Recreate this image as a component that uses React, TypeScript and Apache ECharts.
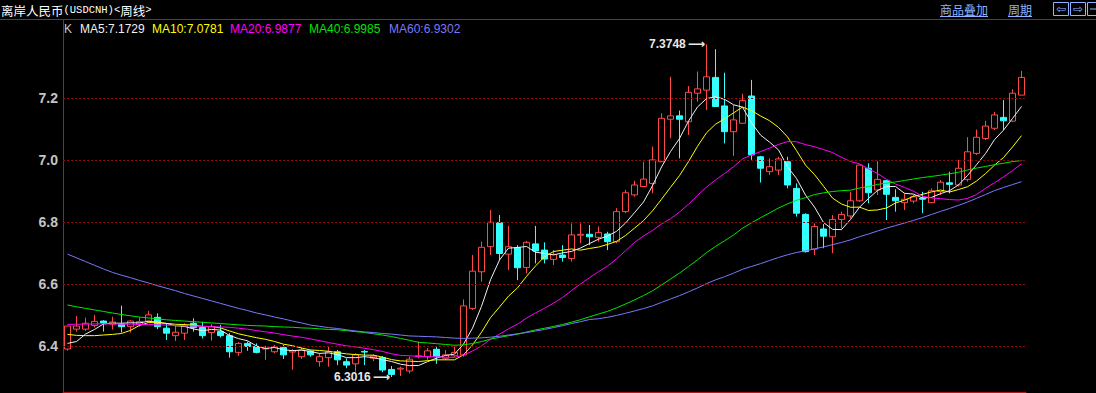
import React, { useEffect, useRef } from 'react';
import * as echarts from 'echarts';

// ---- weekly OHLC (USDCNH) ----
const opens = [
  6.392, 6.456, 6.456, 6.468, 6.482, 6.472, 6.472, 6.464, 6.472, 6.482,
  6.494, 6.459, 6.435, 6.443, 6.475, 6.461, 6.445, 6.448, 6.435, 6.381,
  6.410, 6.400, 6.392, 6.383, 6.397, 6.382, 6.367, 6.385, 6.351, 6.364,
  6.383, 6.351, 6.344, 6.384, 6.362, 6.364, 6.326, 6.327, 6.321, 6.367,
  6.367, 6.391, 6.362, 6.370, 6.373, 6.523, 6.641, 6.722, 6.799, 6.698,
  6.719, 6.655, 6.731, 6.711, 6.681, 6.695, 6.684, 6.759, 6.762, 6.752,
  6.763, 6.738, 6.835, 6.889, 6.916, 6.926, 6.996, 7.133, 7.144, 7.125,
  7.217, 7.227, 7.268, 7.176, 7.093, 7.120, 7.208, 7.012, 6.964, 6.969,
  6.996, 6.910, 6.826, 6.714, 6.779, 6.754, 6.810, 6.821, 6.870, 6.975,
  6.905, 6.935, 6.881, 6.864, 6.869, 6.878, 6.864, 6.900, 6.928, 6.921,
  6.939, 7.023, 7.071, 7.104, 7.139, 7.127, 7.211,
];
const closes = [
  6.466, 6.466, 6.475, 6.481, 6.476, 6.479, 6.464, 6.482, 6.480, 6.502,
  6.464, 6.443, 6.446, 6.469, 6.461, 6.435, 6.464, 6.435, 6.383, 6.410,
  6.400, 6.381, 6.394, 6.399, 6.373, 6.386, 6.389, 6.373, 6.367, 6.383,
  6.357, 6.340, 6.373, 6.382, 6.369, 6.324, 6.310, 6.330, 6.359, 6.370,
  6.386, 6.367, 6.373, 6.381, 6.531, 6.643, 6.720, 6.801, 6.700, 6.722,
  6.654, 6.736, 6.708, 6.682, 6.697, 6.687, 6.760, 6.762, 6.754, 6.768,
  6.738, 6.835, 6.896, 6.921, 6.940, 7.002, 7.136, 7.144, 7.133, 7.220,
  7.231, 7.270, 7.174, 7.093, 7.131, 7.193, 7.018, 6.975, 6.980, 7.005,
  6.921, 6.830, 6.706, 6.787, 6.756, 6.810, 6.826, 6.870, 6.985, 6.896,
  6.939, 6.891, 6.870, 6.875, 6.883, 6.875, 6.902, 6.930, 6.923, 6.975,
  7.028, 7.075, 7.111, 7.147, 7.128, 7.217, 7.268,
];
const lows = [
  6.387, 6.448, 6.450, 6.462, 6.448, 6.455, 6.445, 6.445, 6.464, 6.477,
  6.456, 6.421, 6.418, 6.421, 6.448, 6.426, 6.419, 6.429, 6.364, 6.370,
  6.386, 6.378, 6.357, 6.378, 6.360, 6.325, 6.360, 6.367, 6.335, 6.335,
  6.340, 6.330, 6.319, 6.340, 6.353, 6.317, 6.3016, 6.305, 6.313, 6.362,
  6.357, 6.344, 6.356, 6.367, 6.367, 6.518, 6.609, 6.695, 6.679, 6.647,
  6.614, 6.636, 6.668, 6.668, 6.663, 6.674, 6.674, 6.733, 6.727, 6.738,
  6.711, 6.733, 6.830, 6.883, 6.916, 6.894, 6.996, 7.072, 7.007, 7.082,
  7.190, 7.163, 7.174, 7.055, 7.015, 7.120, 7.002, 6.929, 6.953, 6.953,
  6.910, 6.819, 6.703, 6.695, 6.717, 6.701, 6.781, 6.813, 6.867, 6.862,
  6.889, 6.808, 6.835, 6.840, 6.862, 6.830, 6.862, 6.889, 6.894, 6.916,
  6.932, 7.018, 7.066, 7.098, 7.098, 7.125, 7.211,
];
const highs = [
  6.466, 6.498, 6.493, 6.502, 6.485, 6.496, 6.532, 6.485, 6.494, 6.515,
  6.507, 6.475, 6.467, 6.475, 6.491, 6.480, 6.472, 6.470, 6.443, 6.414,
  6.416, 6.410, 6.402, 6.405, 6.405, 6.392, 6.397, 6.389, 6.378, 6.400,
  6.389, 6.362, 6.378, 6.389, 6.375, 6.369, 6.337, 6.335, 6.367, 6.416,
  6.395, 6.400, 6.389, 6.400, 6.552, 6.695, 6.738, 6.840, 6.824, 6.789,
  6.727, 6.741, 6.789, 6.736, 6.711, 6.727, 6.797, 6.797, 6.792, 6.787,
  6.770, 6.846, 6.905, 6.935, 6.996, 7.045, 7.152, 7.270, 7.161, 7.240,
  7.287, 7.3748, 7.359, 7.283, 7.179, 7.215, 7.260, 7.015, 7.007, 7.012,
  7.012, 6.926, 6.830, 6.797, 6.795, 6.824, 6.835, 6.899, 6.987, 6.991,
  6.998, 6.937, 6.907, 6.894, 6.889, 6.899, 6.910, 6.937, 6.964, 7.002,
  7.075, 7.100, 7.128, 7.157, 7.195, 7.230, 7.289,
];
const weeks = closes.map((_, i) => `W${i + 1}`);

// moving-average values before the first full window
const ma5Head = [6.410, 6.416, 6.440, 6.455];
const ma10Head = [6.439, 6.436, 6.435, 6.435, 6.437, 6.439, 6.442, 6.452, 6.468];
const ma20Head = [
  6.471, 6.472, 6.472, 6.473, 6.473, 6.473, 6.472, 6.472, 6.471, 6.471,
  6.470, 6.469, 6.468, 6.467, 6.466, 6.465, 6.464, 6.463, 6.462,
];
const ma40Head = [
  6.534, 6.528, 6.523, 6.518, 6.513, 6.508, 6.503, 6.499, 6.495, 6.492,
  6.489, 6.486, 6.484, 6.482, 6.480, 6.478, 6.476, 6.474, 6.472, 6.470,
  6.468, 6.467, 6.466, 6.464, 6.463, 6.462, 6.460, 6.459, 6.457, 6.455,
  6.454, 6.451, 6.448, 6.445, 6.441, 6.437, 6.432, 6.426, 6.420,
];
const ma60Head = [
  6.698, 6.686, 6.674, 6.662, 6.650, 6.639, 6.630, 6.622, 6.613, 6.605,
  6.596, 6.588, 6.580, 6.571, 6.563, 6.555, 6.547, 6.539, 6.531, 6.523,
  6.516, 6.508, 6.502, 6.495, 6.489, 6.482, 6.476, 6.469, 6.465, 6.461,
  6.458, 6.454, 6.450, 6.447, 6.445, 6.442, 6.440, 6.437, 6.434, 6.433,
  6.432, 6.431, 6.429, 6.427, 6.426, 6.427, 6.428, 6.430, 6.433, 6.437,
  6.441, 6.445, 6.450, 6.455, 6.461, 6.467, 6.474, 6.480, 6.487,
];

const yTicks = [6.4, 6.6, 6.8, 7.0, 7.2];
const titleParts = ['离岸人民币', '(USDCNH)<', '周线', '>'];
const legendLabels = ['K', 'MA5:7.1729', 'MA10:7.0781', 'MA20:6.9877', 'MA40:6.9985', 'MA60:6.9302'];
const menuLabels = ['商品叠加', '周期'];

function movingAverage(n: number, head: number[]) {
  return closes.map((_, i) => {
    if (i < n - 1) return head[i];
    let s = 0;
    for (let k = i - n + 1; k <= i; k++) s += closes[k];
    return +(s / n).toFixed(4);
  });
}

const Y_MIN = 6.2532;
const Y_MAX = 7.4532;

export default function App() {
  const ref = useRef<HTMLDivElement>(null);
  useEffect(() => {
    document.body.style.margin = '0';
    document.body.style.background = '#000';
    if (!ref.current) return;
    const chart = echarts.init(ref.current, null, { renderer: 'svg' });

    const ohlc = opens.map((o, i) => [o, closes[i], lows[i], highs[i]]);
    const maxH = Math.max(...highs);
    const minL = Math.min(...lows);
    const hiIdx = highs.indexOf(maxH);
    const loIdx = lows.indexOf(minL);

    const maDefs = [
      { n: 5, head: ma5Head, color: '#f0f0f0' },
      { n: 10, head: ma10Head, color: '#ffff00' },
      { n: 20, head: ma20Head, color: '#ff00ff' },
      { n: 40, head: ma40Head, color: '#00e600' },
      { n: 60, head: ma60Head, color: '#7878ff' },
    ];
    const legendColors = ['#c8c8c8', '#f0f0f0', '#ffff00', '#ff00ff', '#00e600', '#7878ff'];
    const legendX = [64, 80, 152, 230, 309, 389];

    const red = '#b01818';
    const blue = '#8cb4ff';

    const graphics: any[] = [
      { type: 'rect', shape: { x: 0, y: 0, width: 1096, height: 19 }, style: { fill: '#000' }, z: -1 },
      {
        type: 'text', x: 1, y: 10,
        style: {
          text: `{a|${titleParts[0]}}{b|${titleParts[1]}}{a|${titleParts[2]}}{b|${titleParts[3]}}`,
          verticalAlign: 'middle',
          rich: {
            a: { fontSize: 12.5, fontFamily: '"Noto Sans CJK SC"', fill: '#ffffff', color: '#ffffff' },
            b: { fontSize: 10.5, fontFamily: '"Liberation Mono"', fill: '#ffffff', color: '#ffffff' },
          },
        },
      },
      { type: 'line', shape: { x1: 0, y1: 19.5, x2: 1096, y2: 19.5 }, style: { stroke: red, lineWidth: 1 } },
      ...legendLabels.map((t, i) => ({
        type: 'text', x: legendX[i], y: 29,
        style: { text: t, fill: legendColors[i], font: '12px "Liberation Sans"', verticalAlign: 'middle' },
      })),
      { type: 'text', x: 940, y: 9, style: { text: menuLabels[0], fill: blue, font: '12px "Noto Sans CJK SC"', verticalAlign: 'middle' } },
      { type: 'line', shape: { x1: 940, y1: 16.5, x2: 988, y2: 16.5 }, style: { stroke: blue, lineWidth: 1 } },
      { type: 'text', x: 1008, y: 9, style: { text: menuLabels[1], fill: blue, font: '12px "Noto Sans CJK SC"', verticalAlign: 'middle' } },
      { type: 'line', shape: { x1: 1008, y1: 16.5, x2: 1032, y2: 16.5 }, style: { stroke: blue, lineWidth: 1 } },
      { type: 'rect', shape: { x: 1053.5, y: 2.5, width: 15, height: 13 }, style: { fill: 'none', stroke: blue, lineWidth: 1 } },
      { type: 'text', x: 1061, y: 9, style: { text: '⇦', fill: blue, font: '12px "DejaVu Sans"', align: 'center', verticalAlign: 'middle' } },
      { type: 'rect', shape: { x: 1070.5, y: 2.5, width: 15, height: 13 }, style: { fill: 'none', stroke: blue, lineWidth: 1 } },
      { type: 'text', x: 1078, y: 9, style: { text: '⇨', fill: blue, font: '12px "DejaVu Sans"', align: 'center', verticalAlign: 'middle' } },
      { type: 'rect', shape: { x: 1087.5, y: 2.5, width: 15, height: 13 }, style: { fill: 'none', stroke: blue, lineWidth: 1 } },
      { type: 'line', shape: { x1: 1090, y1: 9, x2: 1096, y2: 9 }, style: { stroke: blue, lineWidth: 1 } },
    ];

    chart.setOption({
      animation: false,
      backgroundColor: '#000',
      grid: { left: 63, right: 70, top: 20, bottom: 1 },
      xAxis: {
        type: 'category', data: weeks, boundaryGap: true,
        axisLine: { show: true, lineStyle: { color: red, width: 1 } },
        axisTick: { show: false }, axisLabel: { show: false }, splitLine: { show: false },
      },
      yAxis: {
        type: 'value', min: Y_MIN, max: Y_MAX,
        axisLine: { show: true, lineStyle: { color: red, width: 1 } },
        axisTick: { show: false }, axisLabel: { show: false }, splitLine: { show: false },
      },
      graphic: graphics,
      series: [
        {
          type: 'candlestick', data: ohlc, barWidth: 7, silent: true,
          itemStyle: {
            color: 'transparent', color0: '#33ffff',
            borderColor: '#ff4848', borderColor0: '#33ffff', borderWidth: 1,
          },
          markLine: {
            silent: true, symbol: ['none', 'none'],
            lineStyle: { color: '#8c0a0a', type: [2, 2], width: 1 },
            label: {
              show: true, position: 'start', distance: 5,
              formatter: (p: any) => Number(p.value).toFixed(1),
              color: '#c4c4c4', fontSize: 14, fontWeight: 'bold', fontFamily: '"Liberation Sans"',
            },
            emphasis: { disabled: true },
            data: yTicks.map((v) => ({ yAxis: v })),
          },
          markPoint: {
            silent: true, symbol: 'circle', symbolSize: 1,
            itemStyle: { color: 'transparent' },
            label: {
              show: true, position: 'left', distance: 1,
              formatter: (p: any) => `${Number(p.value).toFixed(4)}{ar|⟶}`,
              color: '#e8e8e8', fontSize: 12, fontWeight: 'bold', fontFamily: '"Liberation Sans"',
              rich: { ar: { fontSize: 12, fontFamily: '"DejaVu Sans"', color: '#e8e8e8', padding: [0, 0, 0, 2] } },
            },
            data: [
              { coord: [weeks[hiIdx], maxH], value: maxH },
              { coord: [weeks[loIdx], minL], value: minL },
            ],
          },
        },
        ...maDefs.map((d) => ({
          type: 'line', data: movingAverage(d.n, d.head), silent: true,
          showSymbol: false, symbol: 'none', smooth: false,
          lineStyle: { color: d.color, width: 1 },
        })),
      ],
    });
    return () => chart.dispose();
  }, []);
  return <div ref={ref} style={{ width: 1096, height: 393, background: '#000' }} />;
}
